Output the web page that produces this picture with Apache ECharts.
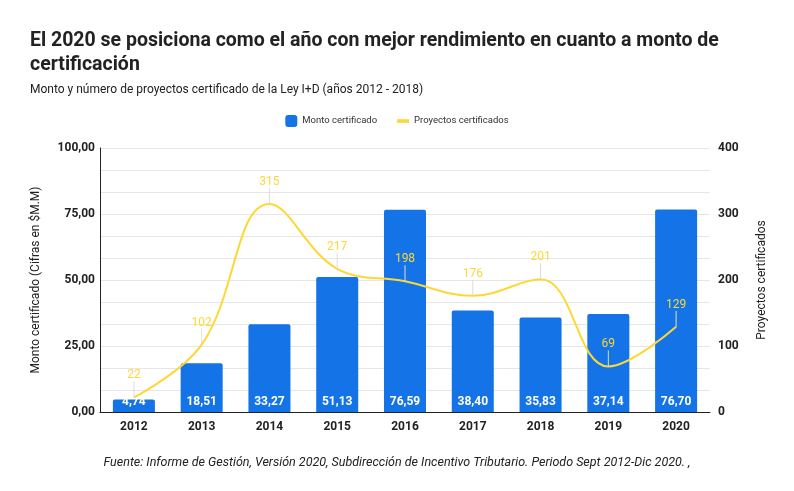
<!DOCTYPE html>
<html><head><meta charset="utf-8">
<script src="https://cdn.jsdelivr.net/npm/echarts@6/dist/echarts.min.js"></script>
<style>html,body{margin:0;padding:0;background:#fff}#c{width:794px;height:491px}</style>
</head><body><div id="c"></div>
<script>
const years = ['2012','2013','2014','2015','2016','2017','2018','2019','2020'];
const monto = [4.74, 18.51, 33.27, 51.13, 76.59, 38.40, 35.83, 37.14, 76.70];
const proyectos = [22, 102, 315, 217, 198, 176, 201, 69, 129];
const leftTicks = [0, 25, 50, 75, 100];
const rightTicks = [0, 100, 200, 300, 400];

const fmt = v => v.toFixed(2).replace('.', ',');
const chart = echarts.init(document.getElementById('c'));
chart.setOption({
  textStyle: {fontFamily: 'Roboto'},
  title: [
    {text: 'El 2020 se posiciona como el año con mejor rendimiento en cuanto a monto de\ncertificación',
     left: 25, top: 24, textStyle: {fontSize: 19.5, fontWeight: 'bold', color: '#222', lineHeight: 24}},
    {text: 'Monto y número de proyectos certificado de la Ley I+D (años 2012 - 2018)',
     left: 25, top: 79, textStyle: {fontSize: 12, fontWeight: 'normal', color: '#222'}},
    {text: 'Fuente: Informe de Gestión, Versión 2020, Subdirección de Incentivo Tributario. Periodo Sept 2012-Dic 2020. ,',
     left: 'center', top: 451, textStyle: {fontSize: 12.5, fontWeight: 'normal', fontStyle: 'italic', color: '#222'}}
  ],
  legend: {
    top: 110, left: 'center', itemWidth: 12, itemHeight: 12, itemGap: 20,
    textStyle: {fontSize: 9.5, color: '#333'},
    data: [{name: 'Monto certificado', icon: 'roundRect'},
           {name: 'Proyectos certificados', icon: 'path://M0,0 L20,0 L20,6 L0,6 Z'}]
  },
  grid: {left: 100, right: 84, top: 148, bottom: 79},
  xAxis: {
    type: 'category', data: years,
    axisLine: {lineStyle: {color: '#222', width: 1}},
    axisTick: {show: false},
    axisLabel: {fontSize: 12, fontWeight: 'bold', color: '#222', margin: 9}
  },
  yAxis: [
    {type: 'value', min: 0, max: 100, interval: 25,
     name: 'Monto certificado (Cifras en $M.M)', nameLocation: 'middle', nameGap: 58,
     nameTextStyle: {fontSize: 12, color: '#222'},
     axisLine: {show: true, lineStyle: {color: '#222'}},
     axisTick: {show: false},
     axisLabel: {fontSize: 12, fontWeight: 'bold', color: '#222', formatter: v => fmt(v), margin: 5},
     splitLine: {lineStyle: {color: '#e6e6e6'}},
     minorTick: {show: false, splitNumber: 3},
     minorSplitLine: {show: true, lineStyle: {color: '#e6e6e6'}}},
    {type: 'value', min: 0, max: 400, interval: 100,
     name: 'Proyectos certificados', nameLocation: 'middle', nameGap: 46,
     nameTextStyle: {fontSize: 12, color: '#222'},
     axisLine: {show: false}, axisTick: {show: false},
     axisLabel: {fontSize: 12, fontWeight: 'bold', color: '#222', margin: 8},
     splitLine: {show: false}}
  ],
  series: [
    {name: 'Monto certificado', type: 'bar', data: monto, barWidth: '62%',
     itemStyle: {color: '#1473E6', borderRadius: [2, 2, 0, 0]},
     label: {show: true, position: 'insideBottom', distance: 4, color: '#fff', fontSize: 12, fontWeight: 'bold',
             formatter: p => fmt(p.value)}},
    {name: 'Proyectos certificados', type: 'line', yAxisIndex: 1, data: proyectos, smooth: 0.4,
     showSymbol: true, symbol: 'circle', symbolSize: 0.1,
     lineStyle: {color: '#FDD835', width: 2}, itemStyle: {color: '#FDD835'},
     label: {show: true, position: 'top', distance: 4, color: '#FDD835', fontSize: 12},
     labelLayout: {dy: -12},
     labelLine: {show: true, lineStyle: {color: '#ddd', width: 1}},
     emphasis: {disabled: true},
     z: 3}
  ]
});
</script></body></html>
